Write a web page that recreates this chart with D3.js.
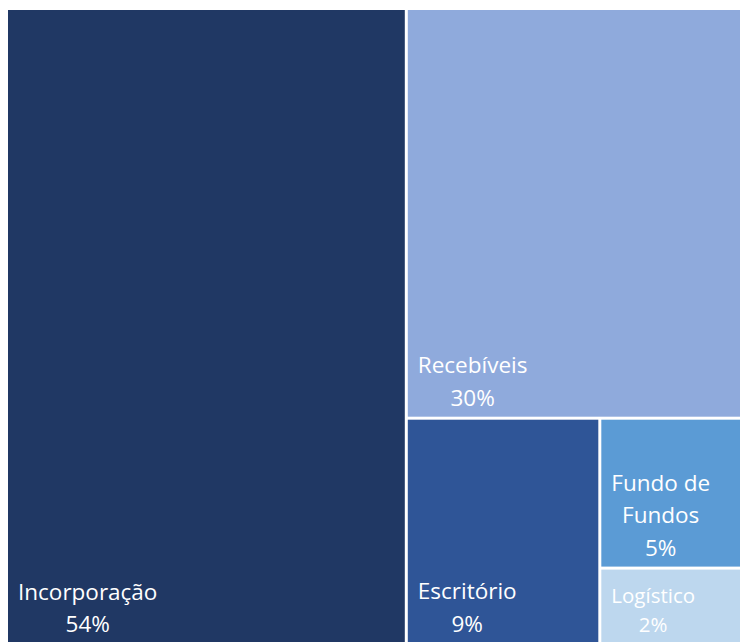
<!DOCTYPE html>
<html>
<head>
<meta charset="utf-8">
<script src="https://cdn.jsdelivr.net/npm/d3@7"></script>
<style>
  body { margin: 0; background: #fff; }
  svg { display: block; }
  text { font-family: "Open Sans", "Noto Sans", sans-serif; fill: #fff; }
</style>
</head>
<body>
<script>
// segment names, shares (%) and cell colours
const sectors = ["Incorporação", "Recebíveis", "Escritório", "Fundo de Fundos", "Logístico"];
const shares = [54.0, 29.6, 9.3, 4.67, 2.38];
const colors = ["#203864", "#8faadc", "#2f5597", "#5b9bd5", "#bdd7ee"];
// how each label is broken into lines
const nameLines = [["Incorporação"], ["Recebíveis"], ["Escritório"], ["Fundo de", "Fundos"], ["Logístico"]];

const WIDTH = 740;
const HEIGHT = 642;
const PADDING = { top: 10, left: 8 };

const svg = d3.select('body')
  .append('svg')
  .attr('width', WIDTH)
  .attr('height', HEIGHT);

const total = d3.sum(shares);
const data = {
  name: 'root',
  children: sectors.map((s, i) => ({ name: s, value: shares[i], idx: i }))
};

const root = d3.hierarchy(data)
  .sum(d => d.value)
  .sort((a, b) => b.value - a.value);

d3.treemap()
  .tile(d3.treemapSquarify.ratio(1))
  .size([737, 633])
  .paddingInner(3)(root);

const color = d3.scaleOrdinal().domain(sectors).range(colors);

const cells = svg.append('g')
  .attr('transform', 'translate(' + PADDING.left + ',' + PADDING.top + ')')
  .selectAll('g')
  .data(root.leaves())
  .enter()
  .append('g')
  .attr('transform', d => 'translate(' + d.x0 + ',' + d.y0 + ')');

cells.append('rect')
  .attr('width', d => d.x1 - d.x0)
  .attr('height', d => d.y1 - d.y0)
  .attr('fill', d => color(d.data.name));

// labels sit in the lower left corner, lines centred on each other
cells.each(function(d) {
  const small = (d.y1 - d.y0) < 100;
  const size = small ? 20.5 : 22.5;
  const lh = small ? 29 : 32.5;
  const lines = nameLines[d.data.idx].concat([Math.round(d.data.value / total * 100) + '%']);
  const g = d3.select(this).append('g');
  const t = g.append('text')
    .attr('font-size', size + 'px')
    .attr('text-anchor', 'middle');
  const bottom = (d.y1 - d.y0) - 11;
  lines.forEach((ln, k) => {
    t.append('tspan')
      .attr('x', 0)
      .attr('y', bottom - (lines.length - 1 - k) * lh)
      .text(ln);
  });
  const bb = t.node().getBBox();
  g.attr('transform', 'translate(' + (10 + bb.width / 2) + ',0)');
});
</script>
</body>
</html>
